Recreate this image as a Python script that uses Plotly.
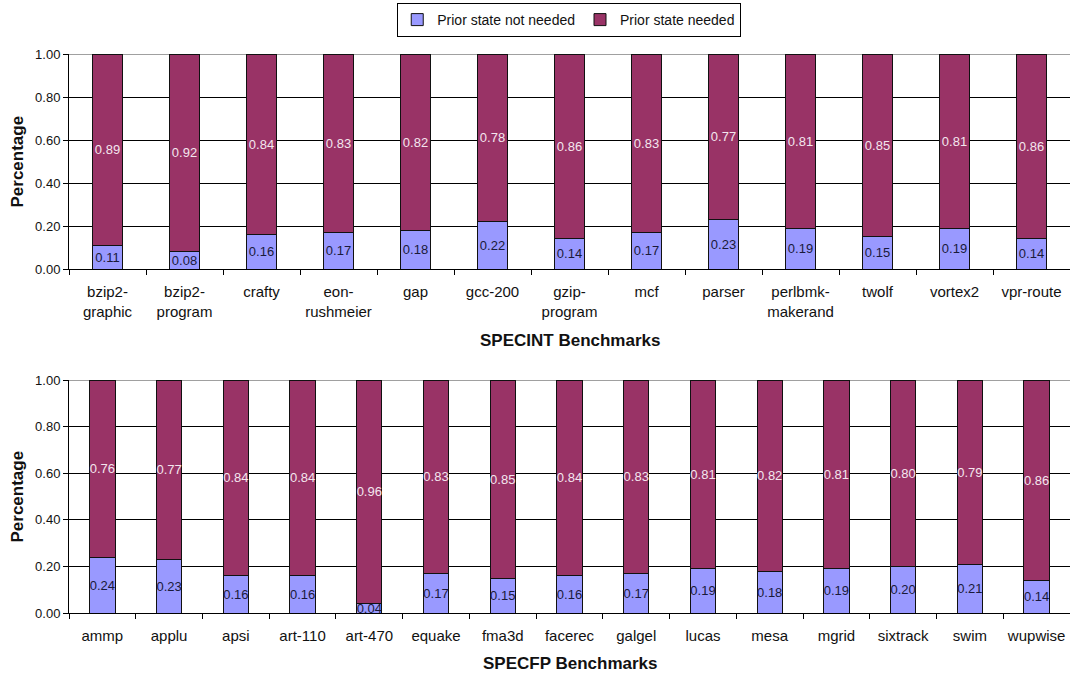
import plotly.graph_objects as go

# SPECINT benchmarks
int_names = ["bzip2-<br>graphic", "bzip2-<br>program", "crafty", "eon-<br>rushmeier", "gap",
             "gcc-200", "gzip-<br>program", "mcf", "parser", "perlbmk-<br>makerand",
             "twolf", "vortex2", "vpr-route"]
int_not_needed = [0.11, 0.08, 0.16, 0.17, 0.18, 0.22, 0.14, 0.17, 0.23, 0.19, 0.15, 0.19, 0.14]
int_needed = [0.89, 0.92, 0.84, 0.83, 0.82, 0.78, 0.86, 0.83, 0.77, 0.81, 0.85, 0.81, 0.86]

# SPECFP benchmarks
fp_names = ["ammp", "applu", "apsi", "art-110", "art-470", "equake", "fma3d", "facerec",
            "galgel", "lucas", "mesa", "mgrid", "sixtrack", "swim", "wupwise"]
fp_not_needed = [0.24, 0.23, 0.16, 0.16, 0.04, 0.17, 0.15, 0.16, 0.17, 0.19, 0.18, 0.19, 0.20, 0.21, 0.14]
fp_needed = [0.76, 0.77, 0.84, 0.84, 0.96, 0.83, 0.85, 0.84, 0.83, 0.81, 0.82, 0.81, 0.80, 0.79, 0.86]

y_ticks = [0.0, 0.2, 0.4, 0.6, 0.8, 1.0]

BLUE = "#9999FF"
MAROON = "#993366"
FONT = "Liberation Sans, Arial, sans-serif"
W, H = 1070, 673

fig = go.Figure()


def add_panel(names, low, high, xa, ya, show_legend):
    common = dict(width=0.38, textposition="inside", insidetextanchor="middle",
                  textangle=0, constraintext="none",
                  marker_line=dict(color="#111111", width=1),
                  xaxis=xa, yaxis=ya, hoverinfo="skip")
    fig.add_trace(go.Bar(x=names, y=low, name="Prior state not needed",
                         marker_color=BLUE, text=[f"{v:.2f}" for v in low],
                         textfont=dict(color="#1a1a3a", size=13, family=FONT),
                         showlegend=show_legend, legendgroup="a", **common))
    fig.add_trace(go.Bar(x=names, y=high, name="Prior state needed",
                         marker_color=MAROON, text=[f"{v:.2f}" for v in high],
                         textfont=dict(color="#f4e6ee", size=13, family=FONT),
                         showlegend=show_legend, legendgroup="b", **common))


add_panel(int_names, int_not_needed, int_needed, "x", "y", True)
add_panel(fp_names, fp_not_needed, fp_needed, "x2", "y2", False)

x_dom = [69 / W, 1.0]
top_dom = [1 - 269 / H, 1 - 54 / H]
bot_dom = [1 - 613 / H, 1 - 380 / H]

xaxis_style = dict(domain=x_dom, showline=True, linecolor="#000000", linewidth=1,
                   ticks="outside", ticklen=5, tickcolor="#000000", tickson="boundaries",
                   showgrid=False, tickangle=0,
                   tickfont=dict(size=15, color="#111111", family=FONT),
                   ticklabelstandoff=9, automargin=False)
yaxis_style = dict(range=[0, 1], tickvals=y_ticks, tickformat=".2f", showline=True,
                   linecolor="#000000", linewidth=1, ticks="outside", ticklen=5,
                   tickcolor="#000000", showgrid=True, gridcolor="#000000", gridwidth=1,
                   zeroline=False, automargin=False,
                   tickfont=dict(size=13, color="#111111", family=FONT))

fig.update_layout(
    width=W, height=H,
    barmode="stack",
    paper_bgcolor="white", plot_bgcolor="white",
    margin=dict(l=0, r=0, t=0, b=0, autoexpand=False),
    font=dict(family=FONT, color="#111111"),
    xaxis=dict(anchor="y", **xaxis_style),
    yaxis=dict(domain=top_dom, anchor="x", **yaxis_style),
    xaxis2=dict(anchor="y2", **xaxis_style),
    yaxis2=dict(domain=bot_dom, anchor="x2", **yaxis_style),
    legend=dict(orientation="h", x=0.532, xanchor="center", y=1 - 3 / H, yanchor="top",
                bordercolor="#000000", borderwidth=1, bgcolor="white",
                font=dict(size=14, family=FONT, color="#111111"),
                itemwidth=30, tracegroupgap=0),
    showlegend=True,
)

# Plot-area top border in grey
for ya, xa in (("y", "x"), ("y2", "x2")):
    fig.add_shape(type="line", xref=f"{xa} domain", yref=ya, x0=0, x1=1, y0=1, y1=1,
                  line=dict(color="#a0a0a0", width=2), layer="below")

# Axis titles
mid_x = (x_dom[0] + x_dom[1]) / 2
fig.add_annotation(text="<b>SPECINT Benchmarks</b>", x=mid_x, y=1 - 340 / H, xref="paper",
                   yref="paper", xanchor="center", yanchor="middle", showarrow=False,
                   font=dict(size=17, family=FONT, color="#111111"))
fig.add_annotation(text="<b>SPECFP Benchmarks</b>", x=mid_x, y=1 - 663 / H, xref="paper",
                   yref="paper", xanchor="center", yanchor="middle", showarrow=False,
                   font=dict(size=17, family=FONT, color="#111111"))
for yc in ((top_dom[0] + top_dom[1]) / 2, (bot_dom[0] + bot_dom[1]) / 2):
    fig.add_annotation(text="<b>Percentage</b>", x=17 / W, y=yc, xref="paper", yref="paper",
                       xanchor="center", yanchor="middle", showarrow=False, textangle=-90,
                       font=dict(size=17, family=FONT, color="#111111"))

fig.write_html("out.html")
